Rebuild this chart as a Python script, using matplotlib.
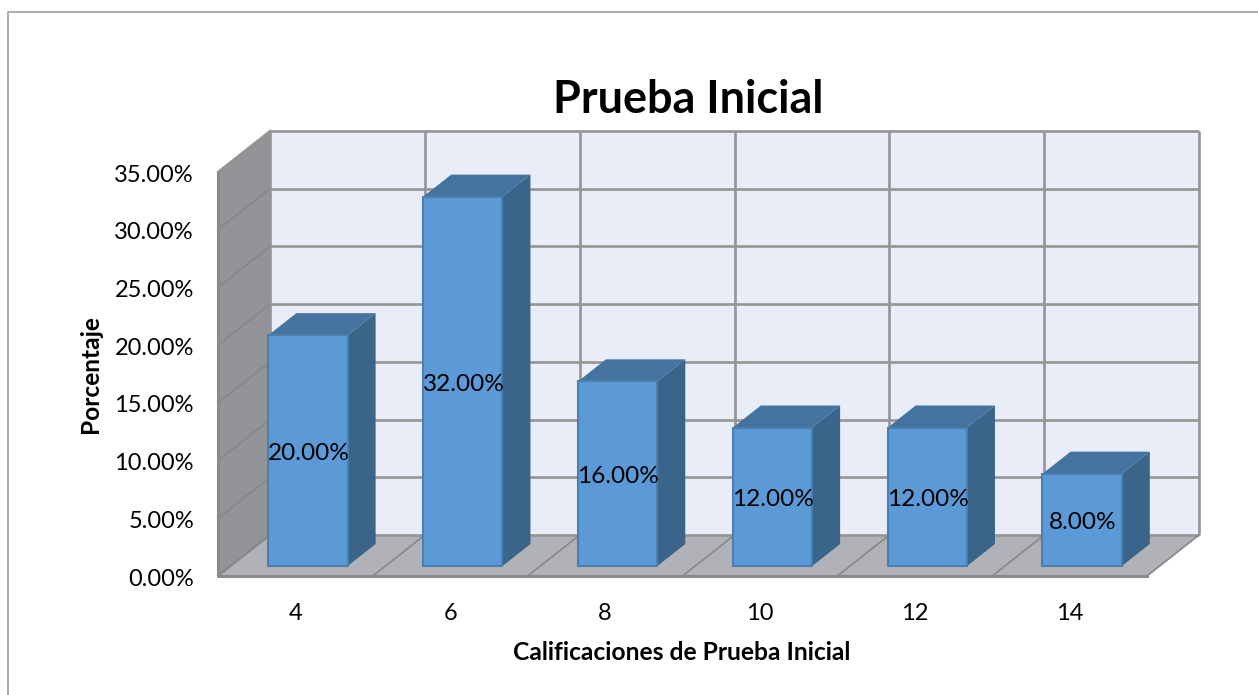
import matplotlib
matplotlib.use('Agg')
import matplotlib.pyplot as plt
from matplotlib.patches import Polygon

plt.rcParams['font.family'] = ['Lato', 'DejaVu Sans']

categories = ['4', '6', '8', '10', '12', '14']
values = [20, 32, 16, 12, 12, 8]
y_ticks = [0, 5, 10, 15, 20, 25, 30, 35]

W, H = 1258, 695
fig = plt.figure(figsize=(W / 100, H / 100), dpi=100)

# front plane of the 3d box, in pixels
left, right, bottom, top = 218, 1147, 576, 172
ax = fig.add_axes([left / W, 1 - bottom / H, (right - left) / W, (bottom - top) / H])
ax.set_xlim(0, 6)
ax.set_ylim(0, 35)
ax.axis('off')

# depth 1 = back wall
dx = 52 / ((right - left) / 6)
dy = 41 / ((bottom - top) / 35)
# text sits a little lower than its centre would put it
text_drop = 3 / ((bottom - top) / 35)


def pt(x, y, d=0):
    return (x + d * dx, y + d * dy)


def face(points, fc, ec='none', lw=1.0, z=2):
    ax.add_patch(Polygon(points, closed=True, fc=fc, ec=ec, lw=lw, zorder=z, clip_on=False))


grid = '#959595'

# figure border
fig.add_artist(plt.Line2D([8 / W, 8 / W, 1], [0, 1 - 12 / H, 1 - 12 / H], color='#a0a0a0', lw=1.2))

# walls
face([pt(0, 0, 1), pt(6, 0, 1), pt(6, 35, 1), pt(0, 35, 1)], '#e9edf8', z=1)
face([pt(0, 0), pt(0, 0, 1), pt(0, 35, 1), pt(0, 35)], '#929497', z=1)
face([pt(0, 0), pt(6, 0), pt(6, 0, 1), pt(0, 0, 1)], '#b0b2b7', z=1)

for v in y_ticks:
    ax.plot(*zip(pt(0, v, 1), pt(6, v, 1)), color=grid, lw=1.9, zorder=1.5, clip_on=False, solid_capstyle='butt')
    ax.plot(*zip(pt(0, v), pt(0, v, 1)), color='#85878a', lw=1.2, zorder=1.5, clip_on=False)
    ax.text(-0.155, v - text_drop, '%.2f%%' % v, ha='right', va='center', fontsize=17, color='black')

for i in range(7):
    ax.plot(*zip(pt(i, 0, 1), pt(i, 35, 1)), color=grid, lw=1.9, zorder=1.5, clip_on=False, solid_capstyle='butt')
    ax.plot(*zip(pt(i, 0), pt(i, 0, 1)), color='#85878a', lw=1.2, zorder=1.5, clip_on=False)

# front edges of the box
ax.plot(*zip(pt(0, 35), pt(0, 0), pt(6, 0)), color='#8a8a8a', lw=2.2, zorder=1.6, clip_on=False)
ax.plot(*zip(pt(0, 35), pt(0, 35, 1)), color=grid, lw=1.5, zorder=1.6, clip_on=False)

# bars
bw = 0.512
d0, d1 = 0.24, 0.78
for i, (cat, v) in enumerate(zip(categories, values)):
    x0 = i + 0.5 - bw / 2
    x1 = x0 + bw
    face([pt(x1, 0, d0), pt(x1, 0, d1), pt(x1, v, d1), pt(x1, v, d0)], '#3a6489', z=3)
    face([pt(x0, v, d0), pt(x1, v, d0), pt(x1, v, d1), pt(x0, v, d1)], '#44739f', z=3)
    face([pt(x0, 0, d0), pt(x1, 0, d0), pt(x1, v, d0), pt(x0, v, d0)], '#5b9ad7', ec='#4a7fb0', lw=1.5, z=4)
    cx, cy = pt(i + 0.5, v / 2, d0)
    ax.text(cx + 0.005, cy - text_drop, '%.2f%%' % v, ha='center', va='center', fontsize=17.6, color='black', zorder=5)
    ax.text(i + 0.5, -3.1 - text_drop * 0.5, cat, ha='center', va='center', fontsize=17, color='black')

fig.text(688 / W, 1 - 100 / H, 'Prueba Inicial', ha='center', va='center', fontsize=32.4, fontweight='bold', color='black')
fig.text(682 / W, 1 - 652 / H, 'Calificaciones de Prueba Inicial', ha='center', va='center', fontsize=17.7, fontweight='bold', color='black')
fig.text(90 / W, 1 - 374 / H, 'Porcentaje', ha='center', va='center', rotation=90, fontsize=17.6, fontweight='bold', color='black')

fig.savefig('out.png', dpi=100)
